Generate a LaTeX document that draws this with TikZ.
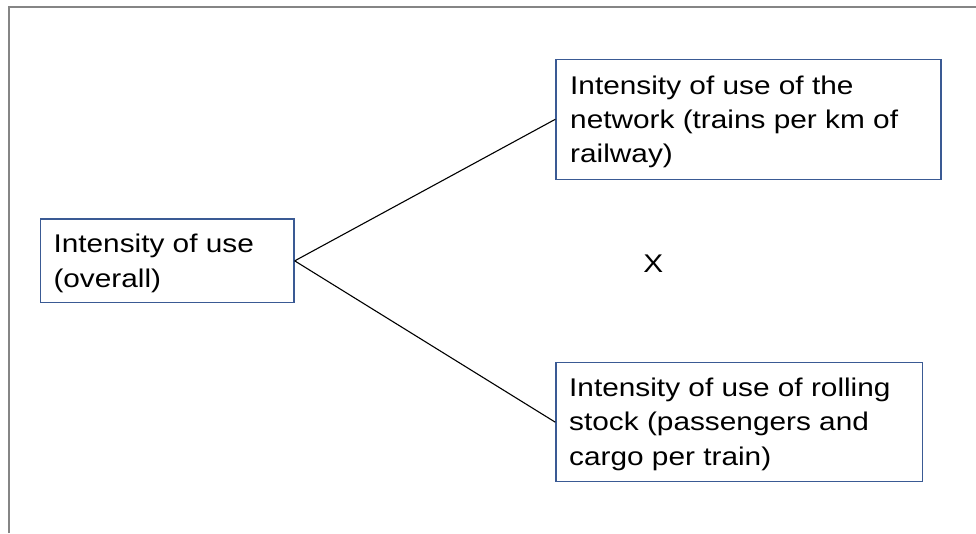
\documentclass[tikz,border=0pt]{standalone}
\usepackage{fontspec}
\setmainfont{Liberation Sans}[FakeStretch=1.164]
\definecolor{boxblue}{HTML}{3A5A94}
\definecolor{framegray}{HTML}{858585}
\begin{document}
\begin{tikzpicture}[x=1pt,y=-1pt,
  box/.style={draw=boxblue, line width=1.4pt, inner sep=0pt, fill=white},
  txt/.style={anchor=base west, align=left, inner sep=0pt, font=\fontsize{25.6}{34.3}\selectfont},
  link/.style={draw=black, line width=1.1pt}]
\useasboundingbox (0,0) rectangle (976,533);
\fill[white] (0,0) rectangle (976,533);
\coordinate (fb) at (9,533);
\coordinate (fc) at (9,7);
\coordinate (fr) at (976,7);
\draw[framegray, line width=2pt] (fb) -- (fc) -- (fr);
\node[box, minimum width=253.3pt, minimum height=83.7pt] (all) at (167.35,260.85) {};
\node[box, minimum width=385pt, minimum height=120pt] (net) at (748.5,119.3) {};
\node[box, minimum width=366.7pt, minimum height=119pt] (roll) at (739.35,422.2) {};
\draw[link] (all.east) -- (net.west);
\draw[link] (all.east) -- (roll.west);
\node[txt] (alltext) at (53.3,287) {Intensity of use\\(overall)};
\node[txt] (nettext) at (570,162.7) {Intensity of use of the\\network (trains per km of\\railway)};
\node[txt] (rolltext) at (569,465) {Intensity of use of rolling\\stock (passengers and\\cargo per train)};
\node[font=\fontsize{25.6}{34.3}\selectfont, inner sep=0pt] (times) at (653.3,263.7) {X};
\end{tikzpicture}
\end{document}
